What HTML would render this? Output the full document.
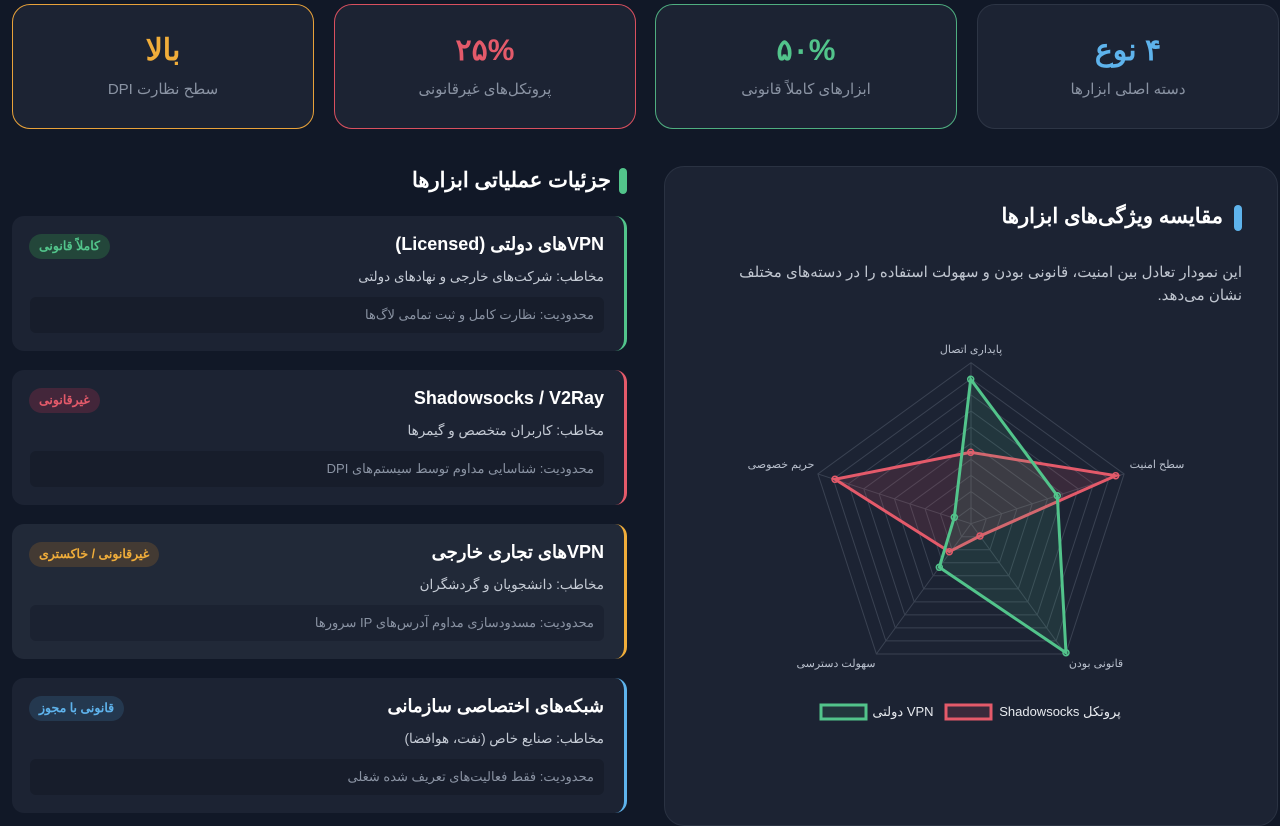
<!DOCTYPE html>
<html><head><meta charset="utf-8">
<style>
*{margin:0;padding:0;box-sizing:border-box}
body{width:1280px;height:813px;overflow:hidden;background:#111827;font-family:"Liberation Sans","Noto Sans CJK SC",sans-serif;position:relative;color:#fff}
.abs{position:absolute}
.stat{position:absolute;top:4px;height:125px;width:302px;border-radius:18px;background:#1c2333;border:1.5px solid #2d3545;text-align:center}
.stat .v{position:absolute;top:28px;left:0;right:0;font-size:30px;font-weight:bold;direction:rtl}
.stat .l{position:absolute;top:75px;left:0;right:0;font-size:15px;color:#8a93a3;direction:rtl}
.tool{position:absolute;left:12px;width:615px;height:135px;background:#1c2333;border-radius:12px;border-right:3px solid}
.tool .t{position:absolute;right:20px;top:18px;font-size:18px;font-weight:bold;direction:rtl;white-space:nowrap}
.tool .a{position:absolute;right:20px;top:53px;font-size:13.5px;color:#c5cbd5;direction:rtl;white-space:nowrap}
.tool .lim{position:absolute;left:18px;right:20px;top:81px;height:36px;background:#171d2b;border-radius:6px}
.tool .lim span{position:absolute;right:10px;top:10px;font-size:13px;color:#8a93a3;direction:rtl;white-space:nowrap}
.tool .b{position:absolute;left:17px;top:18px;height:25px;padding:0 10px;border-radius:13px;font-size:12.5px;font-weight:bold;line-height:25px;direction:rtl;white-space:nowrap}
</style></head><body>
<div class="stat" style="left:12px;border-color:#e8a23a"><div class="v" style="color:#f0ad3a">بالا</div><div class="l">سطح نظارت DPI</div></div>
<div class="stat" style="left:334px;border-color:#d9505f"><div class="v" style="color:#e45a6a">۲۵%</div><div class="l">پروتکل‌های غیرقانونی</div></div>
<div class="stat" style="left:655px;border-color:#4fae80"><div class="v" style="color:#52c48b">۵۰%</div><div class="l">ابزارهای کاملاً قانونی</div></div>
<div class="stat" style="left:977px"><div class="v" style="color:#5eb3ec">۴ نوع</div><div class="l">دسته اصلی ابزارها</div></div>

<div class="abs" style="left:619px;top:168px;width:8px;height:26px;border-radius:4px;background:#52c48b"></div>
<div class="abs" style="right:669px;top:168px;font-size:21px;font-weight:bold;direction:rtl;white-space:nowrap">جزئیات عملیاتی ابزارها</div>

<div class="tool" style="top:216px;border-color:#52c48b"><div class="t">VPNهای دولتی (Licensed)</div><div class="a">مخاطب: شرکت‌های خارجی و نهادهای دولتی</div><div class="lim"><span>محدودیت: نظارت کامل و ثبت تمامی لاگ‌ها</span></div><div class="b" style="background:#23463a;color:#52c48b">کاملاً قانونی</div></div>
<div class="tool" style="top:370px;border-color:#e45a6a"><div class="t">Shadowsocks / V2Ray</div><div class="a">مخاطب: کاربران متخصص و گیمرها</div><div class="lim"><span>محدودیت: شناسایی مداوم توسط سیستم‌های DPI</span></div><div class="b" style="background:#43263a;color:#e45a6a">غیرقانونی</div></div>
<div class="tool" style="top:524px;border-color:#f0ad3a;background:#212938"><div class="t">VPNهای تجاری خارجی</div><div class="a">مخاطب: دانشجویان و گردشگران</div><div class="lim" style="background:#1b2231"><span>محدودیت: مسدودسازی مداوم آدرس‌های IP سرورها</span></div><div class="b" style="background:#433a33;color:#f0ad3a">غیرقانونی / خاکستری</div></div>
<div class="tool" style="top:678px;border-color:#5eb3ec"><div class="t">شبکه‌های اختصاصی سازمانی</div><div class="a">مخاطب: صنایع خاص (نفت، هوافضا)</div><div class="lim"><span>محدودیت: فقط فعالیت‌های تعریف شده شغلی</span></div><div class="b" style="background:#24384f;color:#5eb3ec">قانونی با مجوز</div></div>

<div class="abs" style="left:664px;top:166px;width:614px;height:660px;background:#1c2333;border:1px solid #2a3242;border-radius:20px"></div>
<div class="abs" style="left:1234px;top:205px;width:8px;height:26px;border-radius:4px;background:#5eb3ec"></div>
<div class="abs" style="right:57px;top:204px;font-size:21px;font-weight:bold;direction:rtl;white-space:nowrap">مقایسه ویژگی‌های ابزارها</div>
<div class="abs" style="right:38px;left:728px;top:261px;font-size:15px;line-height:23px;color:#c0c6d0;direction:rtl">این نمودار تعادل بین امنیت، قانونی بودن و سهولت استفاده را در دسته‌های مختلف نشان می‌دهد.</div>

<svg class="abs" style="left:0;top:0" width="1280" height="813">
<g id="grid" fill="none" stroke="#3a4252" stroke-width="1"></g>
<polygon points="970.7,452.3 1115.7,475.7 980,536 949.3,551.7 835,479.3" fill="rgba(228,90,106,0.15)" stroke="#e45a6a" stroke-width="3"/>
<polygon points="970.7,379.3 1057.3,495.7 1066,652.7 939.3,567.3 954.3,517.3" fill="rgba(82,196,139,0.12)" stroke="#52c48b" stroke-width="3"/>
<g fill="none" stroke-width="1.5">
<g stroke="#e45a6a"><circle cx="970.7" cy="452.3" r="3"/><circle cx="1115.7" cy="475.7" r="3"/><circle cx="980" cy="536" r="3"/><circle cx="949.3" cy="551.7" r="3"/><circle cx="835" cy="479.3" r="3"/></g>
<g stroke="#52c48b"><circle cx="970.7" cy="379.3" r="3"/><circle cx="1057.3" cy="495.7" r="3"/><circle cx="1066" cy="652.7" r="3"/><circle cx="939.3" cy="567.3" r="3"/><circle cx="954.3" cy="517.3" r="3"/></g>
</g>
<g font-size="11" fill="#b8bfcc" font-family="Liberation Sans,Noto Sans CJK SC,sans-serif">
<text x="971" y="353" text-anchor="middle" direction="rtl">پایداری اتصال</text>
<text x="1157" y="468" text-anchor="middle" direction="rtl">سطح امنیت</text>
<text x="781" y="468" text-anchor="middle" direction="rtl">حریم خصوصی</text>
<text x="1096" y="667" text-anchor="middle" direction="rtl">قانونی بودن</text>
<text x="836" y="667" text-anchor="middle" direction="rtl">سهولت دسترسی</text>
</g>
<rect x="821" y="705" width="45" height="14" fill="rgba(82,196,139,0.12)" stroke="#52c48b" stroke-width="3"/>
<rect x="946" y="705" width="45" height="14" fill="rgba(228,90,106,0.15)" stroke="#e45a6a" stroke-width="3"/>
<g font-size="13" fill="#e6e9ee" font-family="Liberation Sans,Noto Sans CJK SC,sans-serif">
<text x="903" y="716" text-anchor="middle" direction="rtl">VPN دولتی</text>
<text x="1060" y="716" text-anchor="middle" direction="rtl">پروتکل Shadowsocks</text>
</g>
</svg>
<script>
var g=document.getElementById('grid'),cx=971,cy=523.7,R=161,s='';
function pt(i,r){var a=(-90+72*i)*Math.PI/180;return [cx+r*Math.cos(a),cy+r*Math.sin(a)];}
for(var k=1;k<=10;k++){var p=[];for(var i=0;i<5;i++)p.push(pt(i,R*k/10).join(','));s+='<polygon points="'+p.join(' ')+'"/>';}
for(var i=0;i<5;i++){var q=pt(i,R);s+='<line x1="'+cx+'" y1="'+cy+'" x2="'+q[0]+'" y2="'+q[1]+'"/>';}
g.innerHTML=s;
</script>
</body></html>
